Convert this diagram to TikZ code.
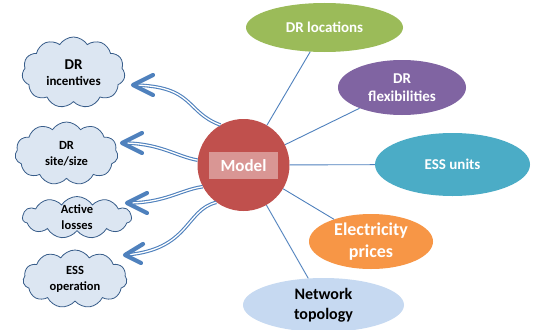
\documentclass[tikz,border=0pt]{standalone}
\usepackage{fontspec}
\setmainfont{Carlito}
\usetikzlibrary{shapes.geometric,shapes.symbols}
\definecolor{cgreen}{HTML}{9BBB59}
\definecolor{cpurple}{HTML}{8064A2}
\definecolor{cteal}{HTML}{4BACC6}
\definecolor{corange}{HTML}{F79646}
\definecolor{clight}{HTML}{C6D9F1}
\definecolor{cred}{HTML}{C0504D}
\definecolor{cpink}{HTML}{D99694}
\definecolor{cline}{HTML}{4F81BD}
\definecolor{cloudfill}{HTML}{DCE6F2}
\definecolor{cloudedge}{HTML}{385D8A}
\begin{document}
\begin{tikzpicture}[x=1pt,y=-1pt,
  ell/.style={ellipse, inner sep=0pt, text=white, align=center, font=\bfseries\fontsize{15}{18}\selectfont},
  cloudbox/.style={cloud, cloud puffs=11, cloud puff arc=115, cloud ignores aspect, draw=cloudedge, fill=cloudfill, line width=0.8pt, inner sep=0pt, align=center, font=\bfseries\fontsize{12.5}{16}\selectfont},
  conn/.style={draw=cline, line width=0.9pt},
  dbl/.style={draw=cline, double=white, line width=1.1pt, double distance=1.3pt},
  chev/.style={draw=cline, line width=4.2pt, line cap=round, line join=round}]
\useasboundingbox[fill=white] (0,0) rectangle (537,329);

% input ellipses
\node[ell, fill=cgreen, minimum width=157pt, minimum height=49pt] (loc) at (324.5,27.5) {DR locations};
\node[ell, fill=cpurple, minimum width=128pt, minimum height=55pt] (flex) at (402,87.5) {DR\\flexibilities};
\node[ell, fill=cteal, minimum width=155pt, minimum height=63pt] (ess) at (452.5,164.5) {ESS units};
\node[ell, fill=corange, minimum width=124pt, minimum height=55pt, font=\bfseries\fontsize{18}{22}\selectfont] (price) at (371,241.5) {Electricity\\prices};
\node[ell, fill=clight, text=black, minimum width=161pt, minimum height=54pt, font=\bfseries\fontsize{16}{20}\selectfont] (net) at (323.5,305) {Network\\topology};

% model
\node[circle, fill=cred, minimum size=92pt, inner sep=0pt] (model) at (243.5,165) {};
\node[fill=cpink, minimum width=69pt, minimum height=27pt, inner sep=0pt, text=white, font=\bfseries\fontsize{17}{20}\selectfont] (mlabel) at (243.5,165.5) {Model};

% connectors to inputs
\draw[conn] (model) -- (loc);
\draw[conn] (model) -- (flex);
\draw[conn] (model) -- (ess);
\draw[conn] (model) -- (price);
\draw[conn] (model) -- (net);

% output clouds
\node[cloudbox, minimum width=103pt, minimum height=71pt] (c1) at (73.5,72.5) {{\fontsize{15}{17}\selectfont DR}\\{\fontsize{13}{16}\selectfont incentives}};
\node[cloudbox, minimum width=103pt, minimum height=63pt] (c2) at (66.5,153.5) {DR\\site/size};
\node[cloudbox, minimum width=109pt, minimum height=42pt] (c3) at (77,217.5) {Active\\losses};
\node[cloudbox, minimum width=104pt, minimum height=58pt] (c4) at (75,279) {ESS\\operation};

% arrow tips
\coordinate (t1) at (133,85);
\coordinate (t2) at (122,143);
\coordinate (t3) at (127,203);
\coordinate (t4) at (125,255);

% curved double arrows
\draw[dbl] (model.120) .. controls (185,112) and (195,86) .. (t1);
\draw[dbl] (model.174) .. controls (175,156) and (160,143) .. (t2);
\draw[dbl] (model.208) .. controls (180,190) and (165,203) .. (t3);
\draw[dbl] (model.234) .. controls (185,210) and (190,250) .. (t4);

\draw[chev] (t1) ++(20,-10) -- (t1) -- ++(20,10);
\draw[chev] (t2) ++(20,-10) -- (t2) -- ++(20,10);
\draw[chev] (t3) ++(20,-10) -- (t3) -- ++(20,10);
\draw[chev] (t4) ++(18,-11) -- (t4) -- ++(16,8);
\end{tikzpicture}
\end{document}
